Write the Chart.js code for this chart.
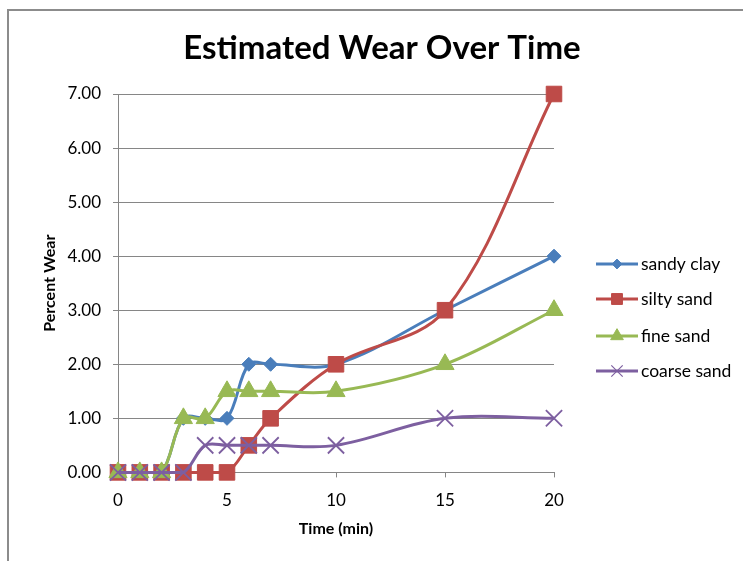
<!DOCTYPE html>
<html>
<head>
<meta charset="utf-8">
<script src="https://cdn.jsdelivr.net/npm/chart.js@4/dist/chart.umd.min.js"></script>
<style>
  html, body { margin: 0; padding: 0; background: #fff; overflow: hidden; }
  #frame { position: absolute; left: 7px; top: 9px; width: 800px; height: 600px;
           border-left: 2px solid #8c8c8c; border-top: 2px solid #8c8c8c; }
  #wrap { position: absolute; left: 0; top: 0; width: 743px; height: 561px; }
</style>
</head>
<body>
<div id="frame"></div>
<div id="wrap"><canvas id="myChart" width="743" height="561"></canvas></div>
<script>
// data
const times = [0, 1, 2, 3, 4, 5, 6, 7, 10, 15, 20];
const sandyClay = [0, 0, 0, 1, 1, 1, 2, 2, 2, 3, 4];
const siltySand = [0, 0, 0, 0, 0, 0, 0.5, 1, 2, 3, 7];
const fineSand = [0, 0, 0, 1, 1, 1.5, 1.5, 1.5, 1.5, 2, 3];
const coarseSand = [0, 0, 0, 0, 0.5, 0.5, 0.5, 0.5, 0.5, 1, 1];
const seriesNames = ["sandy clay", "silty sand", "fine sand", "coarse sand"];
const xTicks = [0, 5, 10, 15, 20];
const chartTitle = "Estimated Wear Over Time";

const fontFamily = "Lato, 'Open Sans', sans-serif";

function pts(values) {
  return times.map(function (t, i) {
    return { x: t, y: values[i] };
  });
}

// later series sit on top (lower order = drawn last)
function series(label, values, color, style, radius, bw, order) {
  return {
    label: label,
    data: pts(values),
    borderColor: color,
    backgroundColor: color,
    borderWidth: 3,
    pointStyle: style,
    pointRadius: radius,
    pointHoverRadius: radius,
    pointBorderWidth: bw,
    pointBorderColor: color,
    pointBackgroundColor: color,
    tension: 0.35,
    clip: false,
    order: order,
  };
}

// title centred on the whole frame, and a hand drawn legend (line + marker)
const sideLegend = {
  id: "sideLegend",
  afterDraw: function (chart) {
    const ctx = chart.ctx;
    ctx.save();
    ctx.fillStyle = "#000";
    ctx.font = "bold 33px " + fontFamily;
    ctx.textAlign = "center";
    ctx.textBaseline = "middle";
    ctx.fillText(chartTitle, 382, 48);
    ctx.restore();

    const rows = [264, 299, 336, 371];
    chart.data.datasets.forEach(function (ds, i) {
      const y = rows[i];
      ctx.save();
      ctx.strokeStyle = ds.borderColor;
      ctx.lineWidth = 3;
      ctx.beginPath();
      ctx.moveTo(596, y);
      ctx.lineTo(638, y);
      ctx.stroke();
      ctx.fillStyle = ds.borderColor;
      ctx.strokeStyle = ds.borderColor;
      ctx.lineWidth = ds.pointStyle == "crossRot" ? 1.2 : 1;
      Chart.helpers.drawPoint(ctx, {
        pointStyle: ds.pointStyle,
        radius: ds.pointRadius * 0.7,
        rotation: 0,
        borderWidth: ctx.lineWidth,
      }, 617, y);
      ctx.fillStyle = "#000";
      ctx.font = "17.5px " + fontFamily;
      ctx.textBaseline = "middle";
      ctx.textAlign = "left";
      ctx.fillText(ds.label, 641, y);
      ctx.restore();
    });
  },
};

const ctx = document.getElementById("myChart").getContext("2d");
const myChart = new Chart(ctx, {
  type: "line",
  data: {
    datasets: [
      series(seriesNames[0], sandyClay, "#4a7ebb", "rectRot", 7, 1, 4),
      series(seriesNames[1], siltySand, "#be4b48", "rect", 11, 1, 3),
      series(seriesNames[2], fineSand, "#98b954", "triangle", 10.5, 1, 2),
      series(seriesNames[3], coarseSand, "#7d5fa0", "crossRot", 11.5, 1.8, 1),
    ],
  },
  options: {
    responsive: false,
    animation: false,
    layout: { padding: { left: 36, right: 189, top: 94, bottom: 23 } },
    plugins: {
      legend: { display: false },
      tooltip: { enabled: false },
      title: { display: false },
    },
    scales: {
      x: {
        type: "linear",
        min: 0,
        max: 20,
        afterBuildTicks: function (scale) {
          scale.ticks = xTicks.map(function (v) { return { value: v }; });
        },
        grid: {
          drawOnChartArea: false,
          drawTicks: true,
          tickLength: 5,
          color: "#868686",
        },
        border: { color: "#868686", width: 1 },
        ticks: {
          color: "#000",
          font: { family: fontFamily, size: 17 },
          padding: 13,
          maxRotation: 0,
        },
        title: {
          display: true,
          text: "Time (min)",
          color: "#000",
          font: { family: fontFamily, size: 16, weight: "bold" },
          padding: { top: -5, bottom: 0 },
        },
      },
      y: {
        min: 0,
        max: 7,
        afterFit: function (scale) {
          scale.width = 82;
        },
        grid: {
          color: "#868686",
          drawTicks: true,
          tickLength: 5,
        },
        border: { color: "#868686", width: 1 },
        ticks: {
          stepSize: 1,
          color: "#000",
          font: { family: fontFamily, size: 17 },
          padding: 12,
          callback: function (v) {
            return v.toFixed(2);
          },
        },
        title: {
          display: true,
          text: "Percent Wear",
          color: "#000",
          font: { family: fontFamily, size: 16, weight: "bold" },
          padding: { bottom: 0 },
        },
      },
    },
  },
  plugins: [sideLegend],
});
</script>
</body>
</html>
